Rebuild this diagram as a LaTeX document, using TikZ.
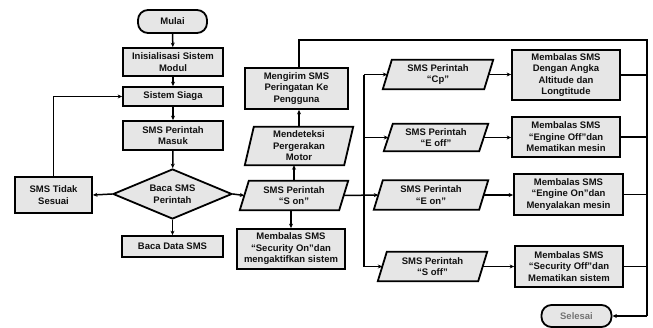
\documentclass[tikz,border=0pt]{standalone}
\usepackage{fontspec}
\setmainfont{Liberation Sans}[BoldFont={Liberation Sans Bold}]
\usetikzlibrary{arrows.meta,shapes.geometric}
\definecolor{boxfill}{HTML}{E6E6E6}
\definecolor{txt}{HTML}{111111}
\tikzset{
  base/.style={font=\bfseries\fontsize{9.5}{11.5}\selectfont, text=txt, align=center, inner sep=0pt},
  procbox/.style={base, draw=black, line width=1.8pt, fill=boxfill, rectangle},
  term/.style={base, draw=black, line width=1.8pt, fill=boxfill, rectangle, rounded corners=10pt},
  decide/.style={base, draw=black, line width=1.8pt, fill=boxfill, diamond, aspect=2.38, minimum width=119pt, minimum height=50pt},
  iobox/.style={base, rectangle},
  pgshape/.style={draw=black, line width=1.8pt, fill=boxfill},
  conn/.style={line width=1.5pt, -{Stealth[length=4.5pt,width=4pt]}},
  plain/.style={line width=1.5pt},
}
% parallelogram: name, cx, cy, w, h, text
\newcommand{\pgram}[6]{%
  \node[iobox, minimum width=#4pt, minimum height=#5pt] (#1) at (#2,#3) {};
  \draw[pgshape] ([xshift=-4.5pt]#1.south west) -- ([xshift=4.5pt]#1.north west) -- ([xshift=4.5pt]#1.north east) -- ([xshift=-4.5pt]#1.south east) -- cycle;
  \node[iobox] at (#1.center) {#6};
}
\begin{document}
\begin{tikzpicture}[x=1pt,y=-1pt]
\useasboundingbox (0,0) rectangle (653,327);

% left column
\node[term, minimum width=69pt, minimum height=23pt] (mulai) at (172.5,21.5) {Mulai};
\node[procbox, minimum width=100pt, minimum height=28pt] (init) at (173,62) {Inisialisasi Sistem\\Modul};
\node[procbox, minimum width=100pt, minimum height=19pt] (siaga) at (173,96.5) {Sistem Siaga};
\node[procbox, minimum width=100pt, minimum height=29pt] (masuk) at (173,135.5) {SMS Perintah\\Masuk};
\node[decide] (baca) at (172.5,194) {Baca SMS\\Perintah};
\node[procbox, minimum width=77pt, minimum height=36pt] (tidak) at (53.5,195) {SMS Tidak\\Sesuai};
\node[procbox, minimum width=101pt, minimum height=21pt] (data) at (172.5,246.5) {Baca Data SMS};

% middle column
\node[procbox, minimum width=103pt, minimum height=41pt] (kirim) at (296.5,88.5) {Mengirim SMS\\Peringatan Ke\\Pengguna};
\pgram{deteksi}{299}{146}{99}{38}{Mendeteksi\\Pergerakan\\Motor}
\pgram{son}{294}{195.5}{99}{29}{SMS Perintah\\``S on''}
\node[procbox, minimum width=108pt, minimum height=40pt] (secon) at (291,249) {Membalas SMS\\``Security On''dan\\mengaktifkan sistem};

% right commands
\pgram{cp}{438}{74.5}{101}{29}{SMS Perintah\\``Cp''}
\pgram{eoff}{436}{137.5}{95}{27}{SMS Perintah\\``E off''}
\pgram{eon}{431}{195}{105}{29}{SMS Perintah\\``E on''}
\pgram{soff}{432.5}{266.5}{100}{29}{SMS Perintah\\``S off''}

% replies
\node[procbox, minimum width=108pt, minimum height=50pt] (rcp) at (566,75) {Membalas SMS\\Dengan Angka\\Altitude dan\\Longtitude};
\node[procbox, minimum width=108pt, minimum height=40pt] (reoff) at (566,137) {Membalas SMS\\``Engine Off''dan\\Mematikan mesin};
\node[procbox, minimum width=109pt, minimum height=41pt] (reon) at (568.5,194.5) {Membalas SMS\\``Engine On''dan\\Menyalakan mesin};
\node[procbox, minimum width=108pt, minimum height=41pt] (rsoff) at (569,266.5) {Membalas SMS\\``Security Off''dan\\Mematikan sistem};

\node[term, minimum width=70pt, minimum height=22pt, text=black!55] (selesai) at (576.5,316) {Selesai};

\coordinate (bus) at (364,0);
\coordinate (rbus) at (647,0);
\coordinate (topy) at (0,40);

% connectors left column
\draw[conn] (mulai) -- (init);
\draw[conn] (init) -- (siaga);
\draw[conn] (siaga) -- (masuk);
\draw[conn] (masuk) -- (baca);
\draw[conn] (baca.west) -- (tidak.east);
\draw[conn] (tidak.north) |- (siaga.west);
\draw[conn] (baca.south) -- (data.north);
\draw[conn] (baca.east) -- (son.west);

% middle
\draw[conn] (son.south -| secon.north) -- (secon.north);
\draw[conn] (son.north) -- (deteksi.south -| son.north);
\draw[conn] (deteksi.north) -- (kirim.south -| deteksi.north);
\draw[plain] (kirim.north -| deteksi.north) -- (topy -| deteksi.north) -- (topy -| rbus) -- (selesai.east -| rbus);
\draw[conn] (selesai.east -| rbus) -- (selesai.east);

% bus
\draw[plain] (cp.west -| bus) -- (soff.west -| bus);
\draw[conn] (son.east) -- (eon.west);
\draw[conn] (cp.west -| bus) -- (cp.west);
\draw[conn] (eoff.west -| bus) -- (eoff.west);
\draw[conn] (soff.west -| bus) -- (soff.west);

% to replies
\draw[conn] (cp.east) -- (cp.east -| rcp.west);
\draw[conn] (eoff.east) -- (eoff.east -| reoff.west);
\draw[conn] (eon.east) -- (eon.east -| reon.west);
\draw[conn] (soff.east) -- (soff.east -| rsoff.west);

% replies to right line
\draw[plain] (rcp.east) -- (rcp.east -| rbus);
\draw[plain] (reoff.east) -- (reoff.east -| rbus);
\draw[plain] (reon.east) -- (reon.east -| rbus);
\draw[plain] (rsoff.east) -- (rsoff.east -| rbus);
\end{tikzpicture}
\end{document}
